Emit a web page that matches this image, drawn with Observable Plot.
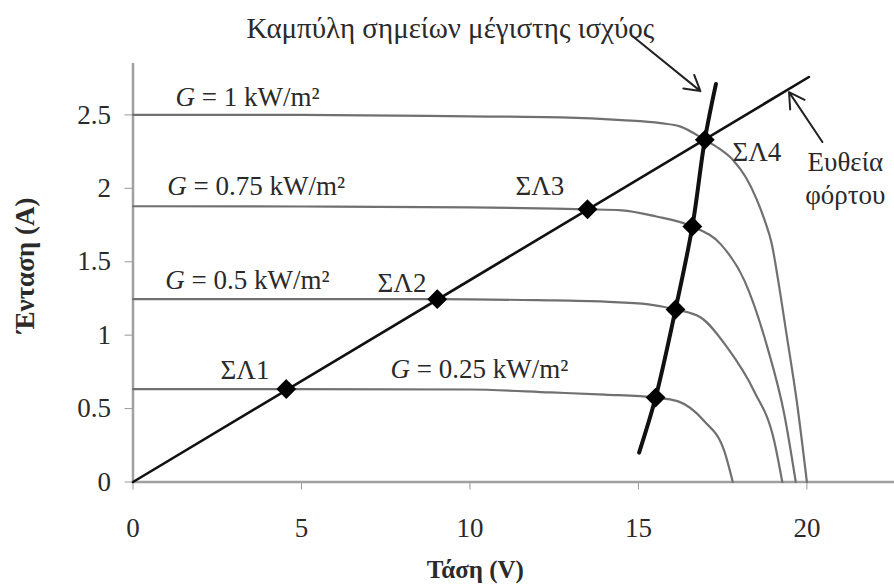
<!DOCTYPE html>
<html>
<head>
<meta charset="utf-8">
<script src="https://cdn.jsdelivr.net/npm/d3@7"></script>
<script src="https://cdn.jsdelivr.net/npm/@observablehq/plot@0.6"></script>
<style>
  html, body { margin: 0; padding: 0; background: #fff; }
</style>
</head>
<body>
<div id="chart"></div>
<script>
// ---------- data ----------
const irradianceLabels = ["G = 1 kW/m²", "G = 0.75 kW/m²", "G = 0.5 kW/m²", "G = 0.25 kW/m²"];

// I–V curves: voltage (V) and current (A)
const voltage1 = [0, 5, 10, 12.7, 14.5, 15.66, 16.25, 16.97, 17.4, 17.82, 18.2, 18.5, 18.75, 18.95, 19.15, 19.4, 19.7, 20.0];
const current1 = [2.50, 2.50, 2.49, 2.483, 2.465, 2.444, 2.42, 2.33, 2.27, 2.19, 2.07, 1.93, 1.78, 1.63, 1.37, 1.0, 0.55, 0];

const voltage075 = [0, 5, 10, 12.5, 13.49, 14.5, 15.5, 16.6, 17.44, 18.15, 18.83, 19.33, 19.67];
const current075 = [1.878, 1.876, 1.87, 1.862, 1.857, 1.85, 1.81, 1.74, 1.62, 1.37, 0.915, 0.46, 0];

const voltage05 = [0, 5, 9.03, 12, 14, 15.3, 16.1, 16.85, 17.64, 18.43, 19.03, 19.27];
const current05 = [1.245, 1.245, 1.245, 1.238, 1.228, 1.21, 1.175, 1.12, 0.915, 0.62, 0.28, 0];

const voltage025 = [0, 4.55, 10, 12.4, 14, 15.51, 16.16, 16.95, 17.55, 17.8];
const current025 = [0.633, 0.633, 0.63, 0.61, 0.595, 0.575, 0.551, 0.415, 0.21, 0];

// load line (Ευθεία φόρτου): from origin to its end
const loadVoltage = [0, 20.06];
const loadCurrent = [0, 2.758];

// operating points on the load line ΣΛ1..ΣΛ3 (ΣΛ4 coincides with MPP at G=1)
const opLabels = ["ΣΛ1", "ΣΛ2", "ΣΛ3", "ΣΛ4"];
const opVoltage = [4.55, 9.03, 13.49];
const opCurrent = [0.633, 1.245, 1.857];

// maximum power points curve
const mppVoltage = [15.02, 15.51, 16.1, 16.6, 16.97, 17.3];
const mppCurrent = [0.2, 0.575, 1.175, 1.74, 2.33, 2.71];
const mppPointVoltage = [15.51, 16.1, 16.6, 16.97];
const mppPointCurrent = [0.575, 1.175, 1.74, 2.33];

// axis ticks
const xTicks = [0, 5, 10, 15, 20];
const yTicks = [0, 0.5, 1, 1.5, 2, 2.5];

// texts
const titleText = "Καμπύλη σημείων μέγιστης ισχύος";
const loadText = ["Ευθεία", "φόρτου"];
const xLabel = "Τάση (V)";
const yLabel = "Ένταση (A)";

// annotation anchor positions (data units)
const irrLabelPos = [[1.26, 2.618], [1.02, 2.014], [0.96, 1.373], [7.64, 0.77]];
const opLabelPos = [[2.6, 0.76], [7.26, 1.35], [11.35, 2.01], [17.79, 2.243]];
const loadTextPos = [[21.14, 2.18], [21.14, 1.953]];
const titlePos = [9.42, 3.089];
const xLabelPos = [10.16, -0.6];
const yLabelPos = [-3.19, 1.476];
const arrowTitle = {x1: 14.83, y1: 3.035, x2: 16.84, y2: 2.662};
const arrowLoad = {x1: 20.46, y1: 2.315, x2: 19.47, y2: 2.655};

// ---------- build tables ----------
const zip = (vs, is, g) => vs.map((v, i) => ({V: v, I: is[i], g}));
const curves = [
  ...zip(voltage1, current1, irradianceLabels[0]),
  ...zip(voltage075, current075, irradianceLabels[1]),
  ...zip(voltage05, current05, irradianceLabels[2]),
  ...zip(voltage025, current025, irradianceLabels[3])
];
const loadLine = zip(loadVoltage, loadCurrent, "load");
const mppLine = zip(mppVoltage, mppCurrent, "mpp");
const markers = [...zip(opVoltage, opCurrent, "op"), ...zip(mppPointVoltage, mppPointCurrent, "mpp")];
const irrTexts = irradianceLabels.map((t, i) => ({t, V: irrLabelPos[i][0], I: irrLabelPos[i][1]}));
const opTexts = opLabels.map((t, i) => ({t, V: opLabelPos[i][0], I: opLabelPos[i][1]}));
const loadTexts = loadText.map((t, i) => ({t, V: loadTextPos[i][0], I: loadTextPos[i][1]}));

const font = "'Liberation Serif', 'Times New Roman', serif";
const textColor = "#2a2a2a";
const fs = 27;

const chart = Plot.plot({
  width: 894,
  height: 587,
  marginLeft: 132.5,
  marginRight: 0,
  marginTop: 63,
  marginBottom: 105.5,
  x: {domain: [0, 22.6]},
  y: {domain: [0, 2.85]},
  style: {fontFamily: font, background: "#fff", color: textColor},
  marks: [
    Plot.axisX({ticks: xTicks, tickSize: 8, tickPadding: 28, stroke: "#999", fill: textColor,
      fontSize: fs, label: null, tickFormat: d => String(d)}),
    Plot.axisY({ticks: yTicks, tickSize: 8, tickPadding: 14, stroke: "#999", fill: textColor,
      fontSize: fs, label: null, tickFormat: d => String(d)}),
    Plot.ruleY([0], {stroke: "#a0a0a0", strokeWidth: 2.5}),
    Plot.ruleX([0], {stroke: "#a0a0a0", strokeWidth: 2.5}),
    Plot.line(curves, {x: "V", y: "I", z: "g", stroke: "#707070", strokeWidth: 2.2, curve: "monotone-x"}),
    Plot.line(loadLine, {x: "V", y: "I", stroke: "#111", strokeWidth: 2.6}),
    Plot.line(mppLine, {x: "V", y: "I", stroke: "#111", strokeWidth: 4, curve: "catmull-rom"}),
    Plot.dot(markers, {x: "V", y: "I", symbol: "diamond2", r: 8, fill: "#000", stroke: "#000"}),
    Plot.text(irrTexts, {x: "V", y: "I", text: "t", textAnchor: "start", fontSize: fs, fill: textColor}),
    Plot.text(opTexts, {x: "V", y: "I", text: "t", textAnchor: "start", fontSize: fs, fill: textColor}),
    Plot.text(loadTexts, {x: "V", y: "I", text: "t", textAnchor: "middle", fontSize: fs, fill: textColor}),
    Plot.text([titleText], {x: titlePos[0], y: titlePos[1], text: d => d, textAnchor: "middle", fontSize: 29, fill: textColor}),
    Plot.text([xLabel], {x: xLabelPos[0], y: xLabelPos[1], text: d => d, textAnchor: "middle", fontSize: 25, fontWeight: "bold", fill: textColor}),
    Plot.text([yLabel], {x: yLabelPos[0], y: yLabelPos[1], text: d => d, textAnchor: "middle", rotate: -90, fontSize: fs, fontWeight: "bold", fill: textColor}),
    Plot.arrow([arrowTitle], {x1: "x1", y1: "y1", x2: "x2", y2: "y2", stroke: "#222", strokeWidth: 2, headLength: 13}),
    Plot.arrow([arrowLoad], {x1: "x1", y1: "y1", x2: "x2", y2: "y2", stroke: "#222", strokeWidth: 2, headLength: 13})
  ]
});

// italic "G" in the irradiance labels
const NS = "http://www.w3.org/2000/svg";
chart.querySelectorAll("text").forEach(el => {
  const s = el.textContent;
  if (s.startsWith("G = ") && el.children.length === 0) {
    el.textContent = "";
    const g = document.createElementNS(NS, "tspan");
    g.setAttribute("font-style", "italic");
    g.textContent = "G";
    const rest = document.createElementNS(NS, "tspan");
    rest.textContent = s.slice(1);
    el.appendChild(g);
    el.appendChild(rest);
  }
});

document.getElementById("chart").appendChild(chart);
</script>
</body>
</html>
